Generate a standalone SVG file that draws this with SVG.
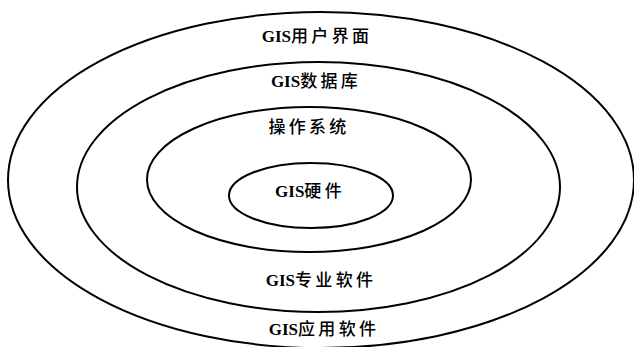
<svg xmlns="http://www.w3.org/2000/svg" width="634" height="347" viewBox="0 0 634 347">
<style>
.ring{fill:none;stroke:#000;stroke-width:2}
.lbl{font-family:"Liberation Serif","Noto Sans CJK SC",serif;font-size:17px;fill:#000;text-anchor:middle}
.lat{font-weight:bold}
.cjk{font-family:"Noto Sans CJK SC",sans-serif;font-weight:500;letter-spacing:3.3px}
</style>
<rect width="634" height="347" fill="#fff"/>
<g id="app">
<ellipse class="ring" cx="321" cy="180" rx="313" ry="168"/>
<text class="lbl" x="317" y="41.5"><tspan class="lat">GIS</tspan><tspan class="cjk">用户界面</tspan></text>
<text class="lbl" x="324" y="334.5"><tspan class="lat">GIS</tspan><tspan class="cjk">应用软件</tspan></text>
</g>
<g id="professional">
<ellipse class="ring" cx="318.5" cy="187" rx="241.5" ry="125"/>
<text class="lbl" x="316" y="87"><tspan class="lat">GIS</tspan><tspan class="cjk">数据库</tspan></text>
<text class="lbl" x="321" y="285.5"><tspan class="lat">GIS</tspan><tspan class="cjk">专业软件</tspan></text>
</g>
<g id="os">
<ellipse class="ring" cx="309" cy="179.5" rx="162" ry="72.5"/>
<text class="lbl" x="309" y="133"><tspan class="cjk">操作系统</tspan></text>
</g>
<g id="hardware">
<ellipse class="ring" cx="311" cy="195.5" rx="82" ry="32.5"/>
<text class="lbl" x="310" y="196.5"><tspan class="lat">GIS</tspan><tspan class="cjk">硬件</tspan></text>
</g>
</svg>
